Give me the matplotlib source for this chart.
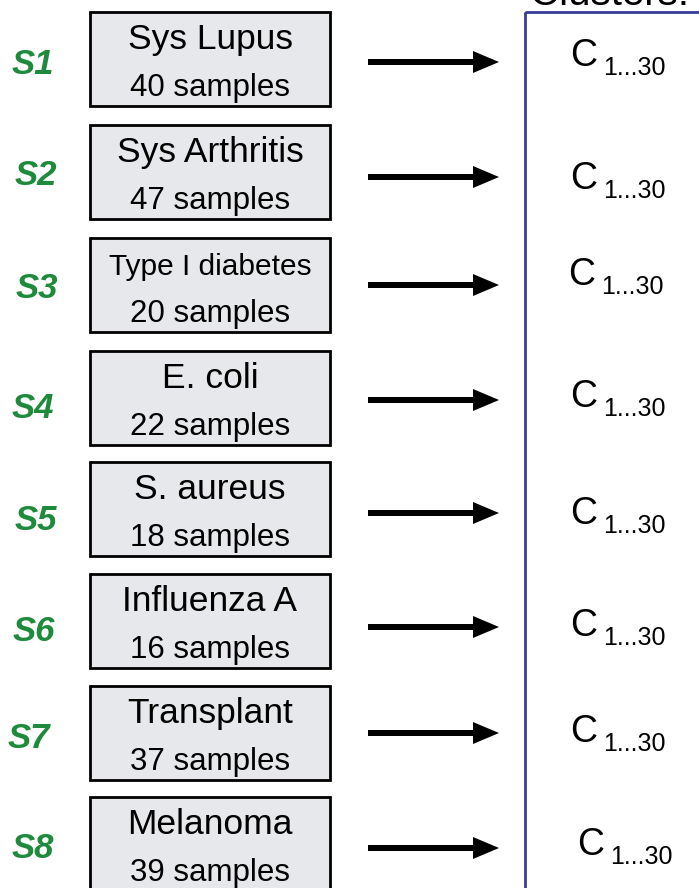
import matplotlib
matplotlib.use("Agg")
import matplotlib.pyplot as plt
from matplotlib.patches import Rectangle, FancyArrow

plt.rcParams['font.family'] = ['Liberation Sans', 'DejaVu Sans']

study_ids = ["S1", "S2", "S3", "S4", "S5", "S6", "S7", "S8"]
conditions = ["Sys Lupus", "Sys Arthritis", "Type I diabetes", "E. coli",
              "S. aureus", "Influenza A", "Transplant", "Melanoma"]
sample_counts = [40, 47, 20, 22, 18, 16, 37, 39]
cluster_label = "C"
cluster_sub = "1...30"
panel_title = "Clusters:"

# layout (pixel units)
box_tops = [12, 125, 238, 351, 462, 574, 686, 797]
arrow_ys = [62, 177, 285, 400, 513, 627, 733, 848]
c_baselines = [66, 189, 285, 407, 524, 636, 742, 855]
c_xs = [570, 570, 568, 570, 570, 570, 570, 577]
label_baselines = [74, 185, 298, 418, 530, 641, 748, 858]
label_xs = [33, 36, 37, 33, 36, 34, 29, 33]

fig = plt.figure(figsize=(6.99, 8.88), dpi=100)
ax = fig.add_axes([0, 0, 1, 1])
ax.set_xlim(0, 699)
ax.set_ylim(888, 0)
ax.axis('off')

green = "#1e8a3c"
for i, (sid, cond, n) in enumerate(zip(study_ids, conditions, sample_counts)):
    top = box_tops[i]
    ax.add_patch(Rectangle((90, top), 240, 94, facecolor="#e7e8eb",
                           edgecolor="black", linewidth=2))
    fs = 21.5 if len(cond) > 13 else 25.5
    ax.text(210, top + 37, cond, ha='center', va='baseline', fontsize=fs)
    ax.text(210, top + 84, f"{n} samples", ha='center', va='baseline', fontsize=22.5)
    ax.text(label_xs[i], label_baselines[i], sid, ha='center', va='baseline',
            fontsize=25, color=green, fontweight='bold', fontstyle='italic')
    y = arrow_ys[i]
    ax.add_patch(FancyArrow(368, y, 131, 0, width=6, head_width=22,
                            head_length=26, length_includes_head=True,
                            color='black', linewidth=0))
    ax.text(c_xs[i], c_baselines[i], cluster_label, ha='left', va='baseline',
            fontsize=27)
    ax.text(c_xs[i] + 33, c_baselines[i] + 9, cluster_sub, ha='left',
            va='baseline', fontsize=18)

ax.add_patch(Rectangle((525, 12), 300, 1000, facecolor='none',
                       edgecolor="#3a3d97", linewidth=2))
ax.text(530, 5, panel_title, ha='left', va='baseline', fontsize=29)

fig.savefig("out.png", dpi=100)
